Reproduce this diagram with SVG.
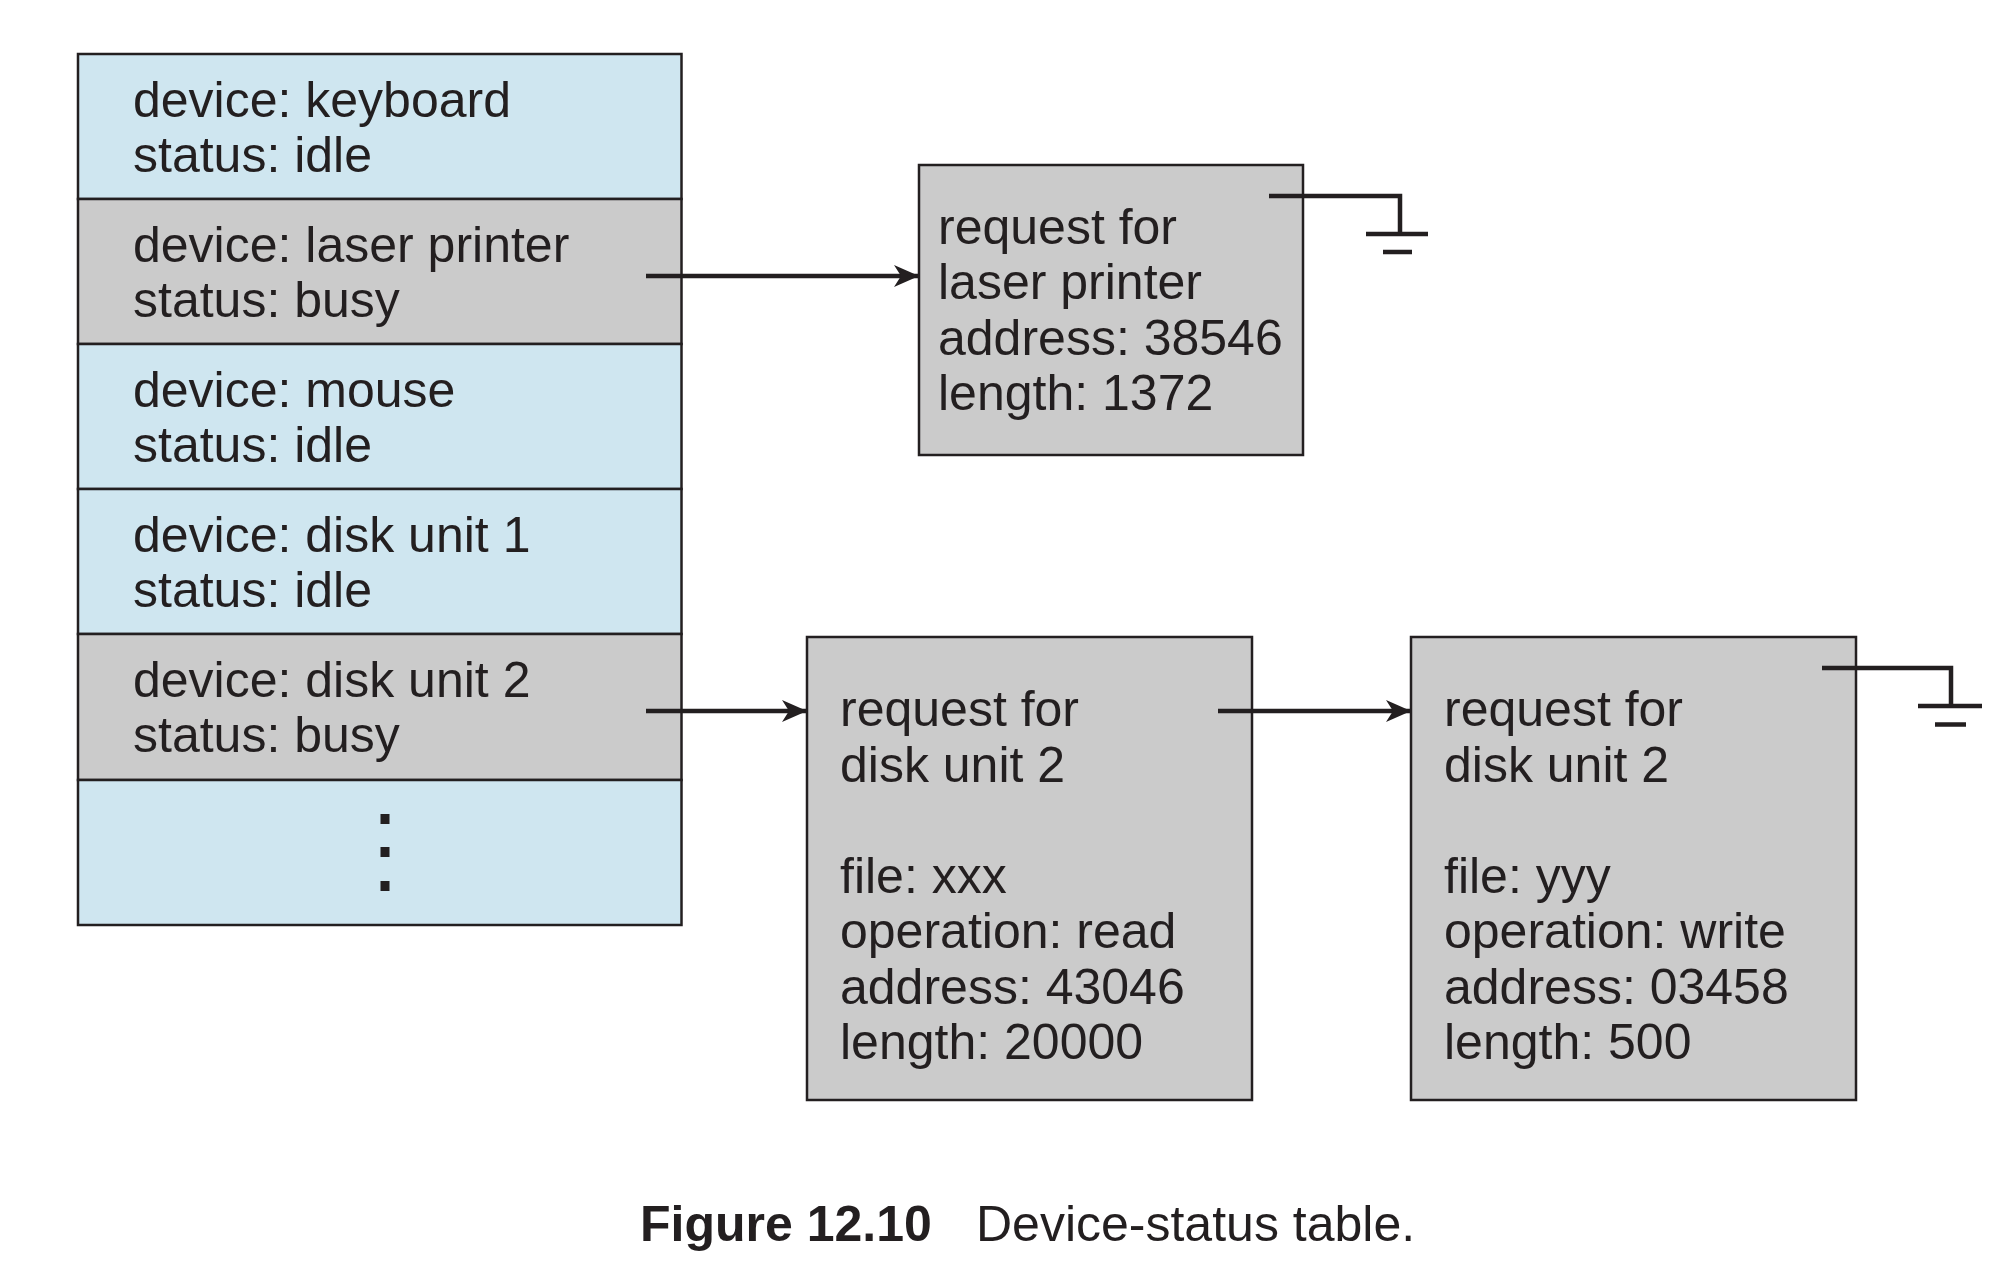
<svg xmlns="http://www.w3.org/2000/svg" width="2014" height="1272" viewBox="0 0 2014 1272">
<style>
.t{font-family:"Liberation Sans",Arial,sans-serif;font-size:50px;fill:#231f20}
.blue{fill:#cfe6f0;stroke:#231f20;stroke-width:2.5}
.gray{fill:#cbcbcb;stroke:#231f20;stroke-width:2.5}
.conn{stroke:#231f20;stroke-width:4.5;fill:none}
.dot{fill:#231f20}
.cap{font-family:"Liberation Sans",Arial,sans-serif;font-size:50px;fill:#231f20}
</style>
<defs>
<marker id="arr" viewBox="0 0 25 22" refX="25" refY="11" markerWidth="25" markerHeight="22" markerUnits="userSpaceOnUse" orient="auto">
<path d="M0,0 L25,11 L0,22 L7,11 Z" fill="#231f20"/>
</marker>
</defs>
<rect width="2014" height="1272" fill="#ffffff"/>
<g id="table">
<g id="row-keyboard"><rect class="blue" x="78" y="54" width="603.5" height="145"/>
<text class="t" x="133" y="117">device: keyboard</text><text class="t" x="133" y="171.5">status: idle</text></g>
<g id="row-laser"><rect class="gray" x="78" y="199" width="603.5" height="145"/>
<text class="t" x="133" y="262">device: laser printer</text><text class="t" x="133" y="316.5">status: busy</text></g>
<g id="row-mouse"><rect class="blue" x="78" y="344" width="603.5" height="145"/>
<text class="t" x="133" y="407">device: mouse</text><text class="t" x="133" y="461.5">status: idle</text></g>
<g id="row-disk1"><rect class="blue" x="78" y="489" width="603.5" height="145"/>
<text class="t" x="133" y="552">device: disk unit 1</text><text class="t" x="133" y="606.5">status: idle</text></g>
<g id="row-disk2"><rect class="gray" x="78" y="634" width="603.5" height="146"/>
<text class="t" x="133" y="697">device: disk unit 2</text><text class="t" x="133" y="751.5">status: busy</text></g>
<g id="row-more"><rect class="blue" x="78" y="780" width="603.5" height="145"/>
<rect class="dot" x="380.5" y="814" width="9" height="10"/><rect class="dot" x="380.5" y="847" width="9" height="10"/><rect class="dot" x="380.5" y="881" width="9" height="10"/></g>
</g>
<g id="req-laser"><rect class="gray" x="919" y="165" width="384" height="290"/>
<text class="t" x="938" y="243.5">request for</text><text class="t" x="938" y="299">laser printer</text><text class="t" x="938" y="354.5">address: 38546</text><text class="t" x="938" y="410">length: 1372</text></g>
<g id="req-disk-1"><rect class="gray" x="807" y="637" width="445" height="463"/>
<text class="t" x="840" y="726">request for</text><text class="t" x="840" y="781.5">disk unit 2</text><text class="t" x="840" y="892.5">file: xxx</text><text class="t" x="840" y="948">operation: read</text><text class="t" x="840" y="1003.5">address: 43046</text><text class="t" x="840" y="1059">length: 20000</text></g>
<g id="req-disk-2"><rect class="gray" x="1411" y="637" width="445" height="463"/>
<text class="t" x="1444" y="726">request for</text><text class="t" x="1444" y="781.5">disk unit 2</text><text class="t" x="1444" y="892.5">file: yyy</text><text class="t" x="1444" y="948">operation: write</text><text class="t" x="1444" y="1003.5">address: 03458</text><text class="t" x="1444" y="1059">length: 500</text></g>
<g id="connectors">
<path class="conn" d="M646,276 H919" marker-end="url(#arr)"/>
<path class="conn" d="M646,711 H807" marker-end="url(#arr)"/>
<path class="conn" d="M1218,711 H1411" marker-end="url(#arr)"/>
<path class="conn" d="M1269,196 H1400 V234 M1366,234 H1428 M1383,252 H1412"/>
<path class="conn" d="M1822,668 H1951 V706 M1918,706 H1982 M1935,724.5 H1966"/>
</g>
<g id="caption">
<text class="cap" x="640" y="1241"><tspan font-weight="bold">Figure 12.10</tspan><tspan x="976">Device-status table.</tspan></text>
</g>
</svg>
